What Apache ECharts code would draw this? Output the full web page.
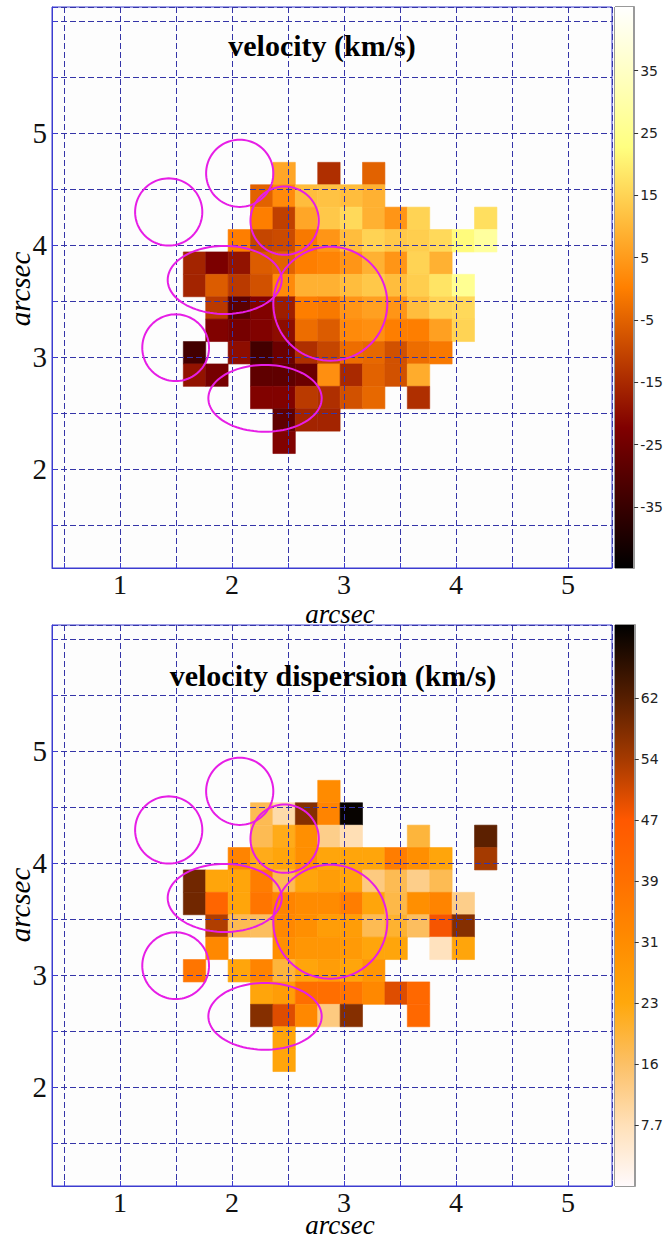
<!DOCTYPE html>
<html>
<head>
<meta charset="utf-8">
<script src="https://cdn.jsdelivr.net/npm/echarts@6/dist/echarts.min.js"></script>
<style>
html,body{margin:0;padding:0;background:#ffffff;}
#c{width:666px;height:1240px;}
</style>
</head>
<body>
<div id="c"></div>
<script>
// ---------------- DATA ----------------
const _ = null;
// Velocity (km/s), rows from top (north) to bottom, columns from left to right
const velocityRows = [
  [_,_,_,_,7,_,-14,_,-5,_,_,_,_,_],
  [_,_,_,-5,2,11,12,11,9,_,_,_,_,_],
  [_,_,_,0,-11,7,13,16,9,4,15,_,_,17],
  [_,_,0,-10,-9,-1,4,11,15,13,14,16,22,28],
  [-16,-23,-19,-6,-5,0,1,4,9,4,15,9,_,_],
  [-16,-6,-12,-8,2,9,9,11,13,11,14,18,26,_],
  [_,-12,-29,-22,-17,0,-1,4,6,4,11,15,16,_],
  [_,-22,-24,-22,-20,-3,-6,2,3,0,0,6,15,_],
  [-33,_,-20,-33,-26,-14,-10,-3,-4,-8,-3,-1,_,_],
  [-19,-24,_,-28,-28,-26,3,-15,-5,-8,8,_,_,_],
  [_,_,_,-22,-22,-12,-14,-8,-4,_,-14,_,_,_],
  [_,_,_,_,-28,-16,-16,_,_,_,_,_,_,_],
  [_,_,_,_,-22,_,_,_,_,_,_,_,_,_]
];
// Velocity dispersion (km/s)
const dispersionRows = [
  [_,_,_,_,_,_,31,_,_,_,_,_,_,_],
  [_,_,_,17,9,57,33,70,_,_,_,_,_,_],
  [_,_,_,17,22,30,12,8,_,_,19,_,_,61],
  [_,_,33,22,24,30,24,24,24,35,30,24,_,54],
  [59,24,24,35,17,24,26,24,13,17,12,17,_,_],
  [59,42,24,37,33,31,31,35,24,18,30,33,12,_],
  [_,53,17,16,32,30,26,26,17,20,16,47,57,_],
  [_,32,_,_,30,28,28,27,24,24,_,7,24,_],
  [37,_,24,33,19,24,26,24,28,_,_,_,_,_],
  [_,_,_,24,26,39,39,37,32,49,41,_,_,_],
  [_,_,_,57,49,32,13,57,_,_,41,_,_,_],
  [_,_,_,_,24,_,_,_,_,_,_,_,_,_],
  [_,_,_,_,24,_,_,_,_,_,_,_,_,_]
];
// Spaxel grid in arcsec: centre of first column / first row, and spaxel size
const spaxelX0 = 1.6655;
const spaxelY0 = 4.638;
const spaxelSize = 0.2;
// Apertures (arcsec): centre x, centre y, radius x, radius y
const apertures = [
  [2.069, 4.640, 0.300, 0.300],
  [1.435, 4.295, 0.300, 0.300],
  [2.470, 4.217, 0.305, 0.305],
  [1.935, 3.688, 0.509, 0.304],
  [2.878, 3.476, 0.509, 0.509],
  [1.497, 3.083, 0.298, 0.298],
  [2.295, 2.631, 0.506, 0.298]
];
// Axes
const xRange = [0.393, 5.393];
const yRange = [1.116, 6.125];
const axisTickLabels = [1, 2, 3, 4, 5];
const velocityRange = [-44.8, 45.2];
const velocityTicks = [35, 25, 15, 5, -5, -15, -25, -35];
const dispersionRange = [0, 70.8];
const dispersionTicks = [7.7, 15.4, 23.1, 30.8, 38.5, 46.2, 53.9, 61.6];
const dispersionTickLabels = ['7.7', '16', '23', '31', '39', '47', '54', '62'];
const titles = ['velocity (km/s)', 'velocity dispersion (km/s)'];
const axisTitle = 'arcsec';

// ---------------- COLOUR MAPS (style) ----------------
function clamp01(v){ return Math.max(0, Math.min(1, v)); }
const afmhotStops = [[0,[0,0,0]],[0.25,[127.5,0,0]],[0.5,[255,127.5,0]],[0.75,[255,255,127.5]],[1,[255,255,255]]];
const dispStops = [
  [0,[255,250,252]],[7.7,[255,224,184]],[15.4,[252,192,102]],[23.1,[255,168,12]],
  [30.8,[255,140,0]],[38.5,[255,112,0]],[46.2,[255,88,0]],[53.9,[165,58,0]],
  [61.6,[86,30,0]],[70.8,[0,0,0]]
];
function interpStops(stops, v){
  if (v <= stops[0][0]) return stops[0][1];
  for (let i = 1; i < stops.length; i++){
    if (v <= stops[i][0]){
      const a = stops[i-1], b = stops[i];
      const f = (v - a[0]) / (b[0] - a[0]);
      return a[1].map((c, k) => c + (b[1][k] - c) * f);
    }
  }
  return stops[stops.length-1][1];
}
function rgb(c){ return 'rgb(' + c.map(x => Math.round(x)).join(',') + ')'; }
function velColor(v){
  const t = clamp01((v - velocityRange[0]) / (velocityRange[1] - velocityRange[0]));
  return rgb(interpStops(afmhotStops, t));
}
function dispColor(v){ return rgb(interpStops(dispStops, v)); }
function velGradient(){
  return afmhotStops.map(s => ({offset: 1 - s[0], color: rgb(s[1])})).reverse();
}
function dispGradient(){
  const span = dispersionRange[1] - dispersionRange[0];
  return dispStops.map(s => ({offset: 1 - (s[0] - dispersionRange[0]) / span, color: rgb(s[1])})).reverse();
}

function cellsFrom(rows){
  const out = [];
  rows.forEach((row, j) => row.forEach((v, i) => {
    if (v !== null) out.push([spaxelX0 + spaxelSize * i, spaxelY0 - spaxelSize * j, v]);
  }));
  return out;
}

// ---------------- LAYOUT ----------------
const FRAME = '#3c3cd0';
const GRIDC = '#3535a8';
const SERIF = '"Liberation Serif", "DejaVu Serif", serif';
const SANS = '"DejaVu Sans", sans-serif';
const panelTops = [7, 625];
const plotLeft = 52, plotWidth = 560, plotHeight = 561;
const barLeft = 615, barWidth = 22;

function tickFmt(v){
  const r = Math.round(v);
  return (Math.abs(v - r) < 1e-6 && axisTickLabels.indexOf(r) >= 0) ? String(r) : '';
}

const grid = [], xAxis = [], yAxis = [], series = [], graphic = [];

[0, 1].forEach(p => {
  const top = panelTops[p];
  const rows = p === 0 ? velocityRows : dispersionRows;
  const colorFn = p === 0 ? velColor : dispColor;
  const range = p === 0 ? velocityRange : dispersionRange;
  const gi = p * 2;
  grid.push({left: plotLeft, top: top, width: plotWidth, height: plotHeight,
    show: true, borderColor: FRAME, borderWidth: 1, backgroundColor: '#fdfdfd'});
  grid.push({left: barLeft, top: top, width: barWidth, height: plotHeight,
    show: true, borderColor: '#333', borderWidth: 1, backgroundColor: 'transparent'});
  xAxis.push({gridIndex: gi, type: 'value', min: xRange[0], max: xRange[1], splitNumber: 10, z: 4,
    axisLine: {show: true, onZero: false, lineStyle: {color: FRAME, width: 1}},
    axisTick: {show: true, inside: true, length: 5, lineStyle: {color: FRAME}},
    axisLabel: {formatter: tickFmt, fontFamily: SERIF, fontSize: 28, color: '#111', margin: 2, showMinLabel: true, showMaxLabel: true},
    splitLine: {show: true, lineStyle: {color: GRIDC, width: 1, type: [6, 3]}}});
  yAxis.push({gridIndex: gi, type: 'value', min: yRange[0], max: yRange[1], splitNumber: 10, z: 4,
    axisLine: {show: true, onZero: false, lineStyle: {color: FRAME, width: 1}},
    axisTick: {show: true, inside: true, length: 5, lineStyle: {color: FRAME}},
    axisLabel: {formatter: tickFmt, fontFamily: SERIF, fontSize: 29, color: '#111', margin: 5, showMinLabel: true, showMaxLabel: true},
    splitLine: {show: true, lineStyle: {color: GRIDC, width: 1, type: [6, 3]}}});
  xAxis.push({gridIndex: gi + 1, type: 'value', min: 0, max: 1, show: false});
  const ticks = p === 0 ? velocityTicks : dispersionTicks;
  yAxis.push({gridIndex: gi + 1, type: 'value', min: range[0], max: range[1], position: 'right', z: 4,
    axisLine: {show: true, onZero: false, lineStyle: {color: '#9a9a9a', width: 2}},
    axisTick: {show: true, inside: false, length: 4, customValues: ticks, lineStyle: {color: '#333'}},
    axisLabel: {customValues: ticks, fontFamily: SANS, fontSize: 14, color: '#222', margin: 6,
      formatter: p === 0 ? (v => String(Math.round(v))) :
        (v => { const k = dispersionTicks.findIndex(t => Math.abs(t - v) < 1e-6); return k >= 0 ? dispersionTickLabels[k] : ''; })},
    splitLine: {show: false}});

  series.push({type: 'custom', coordinateSystem: 'cartesian2d', xAxisIndex: gi, yAxisIndex: gi, z: 2, silent: true,
    data: cellsFrom(rows),
    renderItem: (params, api) => {
      const x = api.value(0), y = api.value(1), v = api.value(2), h = spaxelSize / 2;
      const p0 = api.coord([x - h, y + h]);
      const p1 = api.coord([x + h, y - h]);
      const col = colorFn(v);
      return {type: 'rect', shape: {x: p0[0], y: p0[1], width: p1[0] - p0[0], height: p1[1] - p0[1]},
        style: {fill: col, stroke: col, lineWidth: 0.6}};
    }});
  series.push({type: 'custom', coordinateSystem: 'cartesian2d', xAxisIndex: gi, yAxisIndex: gi, z: 10, silent: true,
    data: apertures,
    renderItem: (params, api) => {
      const c = api.coord([api.value(0), api.value(1)]);
      const s = api.size([api.value(2), api.value(3)]);
      const pts = [];
      for (let k = 0; k < 96; k++){
        const a = 2 * Math.PI * k / 96;
        pts.push([c[0] + s[0] * Math.cos(a), c[1] + s[1] * Math.sin(a)]);
      }
      return {type: 'polygon', shape: {points: pts}, style: {fill: 'none', stroke: '#e61ee6', lineWidth: 2}};
    }});
  series.push({type: 'custom', coordinateSystem: 'cartesian2d', xAxisIndex: gi + 1, yAxisIndex: gi + 1, z: 2, silent: true,
    data: [[0, range[0]]],
    renderItem: (params, api) => {
      const p0 = api.coord([0, range[1]]);
      const p1 = api.coord([1, range[0]]);
      return {type: 'rect', shape: {x: p0[0], y: p0[1], width: p1[0] - p0[0], height: p1[1] - p0[1]},
        style: {fill: {type: 'linear', x: 0, y: 0, x2: 0, y2: 1, colorStops: p === 0 ? velGradient() : dispGradient()}}};
    }});
});

// titles
const titlePos = [[322, 45], [333, 675]];
const xTitlePos = [[340, 614], [340, 1225]];
const yTitlePos = [[20, 289], [20, 905]];
[0, 1].forEach(p => {
  graphic.push({type: 'text', x: titlePos[p][0], y: titlePos[p][1], z: 20,
    style: {text: titles[p], fontFamily: SERIF, fontSize: 30, fontWeight: 'bold', fill: '#000',
      align: 'center', verticalAlign: 'middle', textAlign: 'center', textVerticalAlign: 'middle'}});
  graphic.push({type: 'text', x: xTitlePos[p][0], y: xTitlePos[p][1], z: 20,
    style: {text: axisTitle, fontFamily: SERIF, fontSize: 27, fontStyle: 'italic', fill: '#000',
      align: 'center', verticalAlign: 'middle', textAlign: 'center', textVerticalAlign: 'middle'}});
  graphic.push({type: 'text', x: yTitlePos[p][0], y: yTitlePos[p][1], rotation: Math.PI / 2, z: 20,
    style: {text: axisTitle, fontFamily: SERIF, fontSize: 29, fontStyle: 'italic', fill: '#000',
      align: 'center', verticalAlign: 'middle', textAlign: 'center', textVerticalAlign: 'middle'}});
});

const chart = echarts.init(document.getElementById('c'), null, {renderer: 'svg', width: 666, height: 1240});
chart.setOption({
  animation: false,
  backgroundColor: '#ffffff',
  grid: grid, xAxis: xAxis, yAxis: yAxis, series: series, graphic: graphic
});
</script>
</body>
</html>
